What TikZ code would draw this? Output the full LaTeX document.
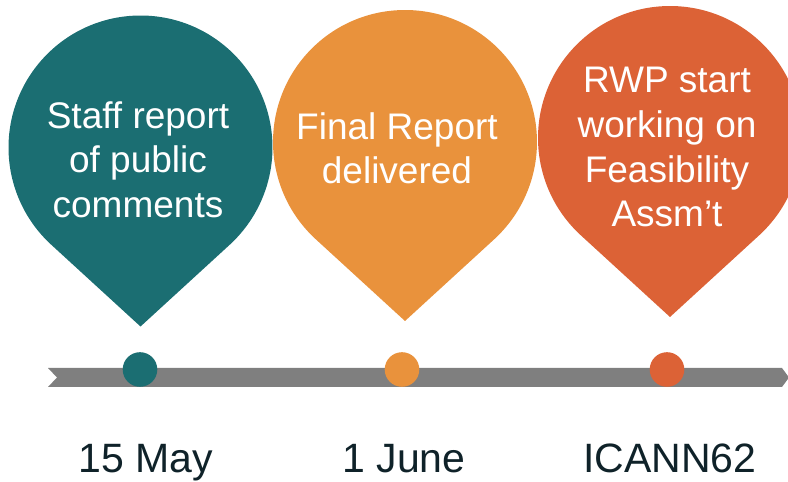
\documentclass[tikz,border=0pt]{standalone}
\usepackage{fontspec}
\setmainfont{Liberation Sans}
\definecolor{teal1}{HTML}{1B6E72}
\definecolor{orange1}{HTML}{E9923C}
\definecolor{red1}{HTML}{DC6236}
\definecolor{bargray}{HTML}{7F7F7F}
\definecolor{labelc}{HTML}{0F2229}
\tikzset{
  pintext/.style={anchor=base, text=white, inner sep=0pt, font=\fontsize{37}{44}\selectfont},
  datelabel/.style={anchor=base, text=labelc, inner sep=0pt, font=\fontsize{41}{48}\selectfont},
  dot/.style={circle, inner sep=0pt, minimum size=34.6pt}
}
\newcommand{\pinshape}[3]{% color, cx, cy
  \fill[#1] (#2,#3-179) -- ($(#2,#3)+(227.5:132)$) arc[start angle=227.5, end angle=-47.5, radius=132] -- cycle;
}
\usetikzlibrary{calc}
\begin{document}
\begin{tikzpicture}[x=1pt,y=1pt]
\useasboundingbox (0,0) rectangle (788,482);
% pins
\pinshape{teal1}{140.5}{334.5}
\pinshape{orange1}{405}{340}
\pinshape{red1}{670}{344}
% pin texts
\node[pintext] (t1a) at (138,353) {Staff report};
\node[pintext] (t1b) at (138,309) {of public};
\node[pintext] (t1c) at (138,264) {comments};
\node[pintext] (t2a) at (397,342) {Final Report};
\node[pintext] (t2b) at (397,298) {delivered};
\node[pintext] (t3a) at (667,389) {RWP start};
\node[pintext] (t3b) at (667,344) {working on};
\node[pintext] (t3c) at (667,299) {Feasibility};
\node[pintext] (t3d) at (667,255) {Assm’t};
% timeline bar
\fill[bargray] (48,114) -- (57,104.5) -- (48,95) -- (782,95) -- (789,104.5) -- (782,114) -- cycle;
% dots
\node[dot, fill=teal1] (d1) at (140,112.5) {};
\node[dot, fill=orange1] (d2) at (402,112.5) {};
\node[dot, fill=red1] (d3) at (667,112.5) {};
% date labels
\node[datelabel] (l1) at (145.5,9) {15 May};
\node[datelabel] (l2) at (404,9) {1 June};
\node[datelabel] (l3) at (670,9) {ICANN62};
\end{tikzpicture}
\end{document}
